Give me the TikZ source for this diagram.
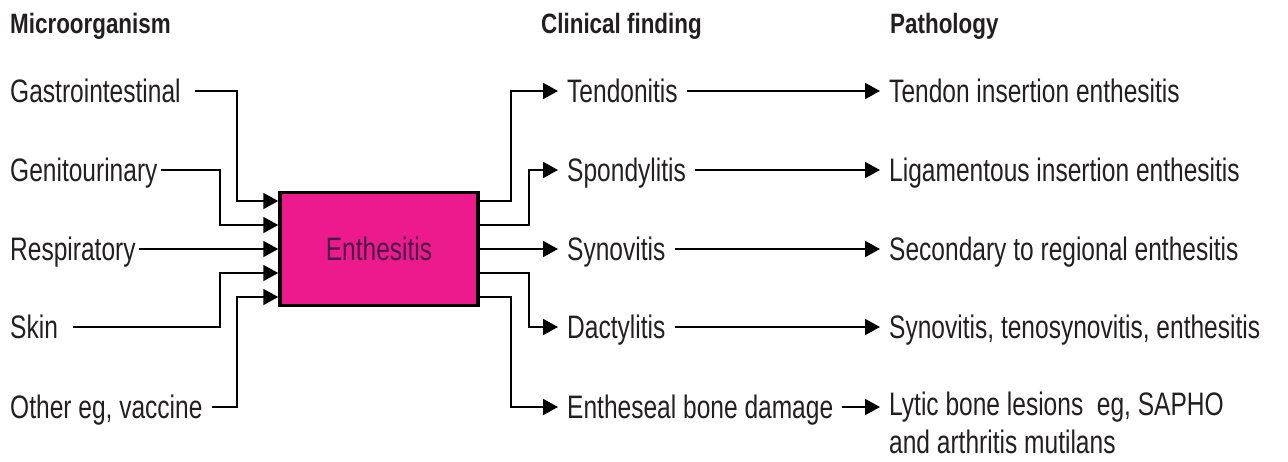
\documentclass[tikz,border=0pt]{standalone}
\usepackage{fontspec}
\setmainfont{Liberation Sans}[FakeStretch=0.755]
\newfontfamily\hdfont{Liberation Sans}[FakeStretch=0.80]
\usetikzlibrary{arrows.meta,calc}
\definecolor{textc}{HTML}{231F20}
\definecolor{boxfill}{HTML}{EC1A8C}
\definecolor{boxtext}{HTML}{4A1848}
\tikzset{
  lblbase/.style={inner xsep=9pt, inner ysep=0pt, text=textc, font=\fontsize{32.5}{38}\selectfont},
  lbl/.style={lblbase, anchor=west, text height=23pt, text depth=0pt},
  hdr/.style={anchor=base west, inner xsep=0pt, inner ysep=0pt, text=textc,
    font=\hdfont\bfseries\fontsize{28}{32}\selectfont},
  ebox/.style={draw=black, line width=3.5pt, fill=boxfill, minimum width=198pt, minimum height=113pt,
    inner sep=0pt, text=boxtext, font=\fontsize{32.5}{38}\selectfont},
  conn/.style={draw=black, line width=2pt},
  arr/.style={conn, -{Triangle[length=15pt,width=16pt]}},
}
\begin{document}
\begin{tikzpicture}[x=1pt,y=1pt]
\useasboundingbox (0,0) rectangle (1288,-461);
% headers
\node[hdr] (h1) at (10,-33) {Microorganism};
\node[hdr] (h2) at (541,-33) {Clinical finding};
\node[hdr] (h3) at (890,-33) {Pathology};
% box
\node[ebox] (box) at (379,-249) {Enthesitis};
\coordinate (i1) at ($(box.west)+(0,48)$);
\coordinate (i2) at ($(box.west)+(0,24)$);
\coordinate (i3) at (box.west);
\coordinate (i4) at ($(box.west)+(0,-24)$);
\coordinate (i5) at ($(box.west)+(0,-48)$);
\coordinate (o1) at ($(box.east)+(0,48)$);
\coordinate (o2) at ($(box.east)+(0,24)$);
\coordinate (o3) at (box.east);
\coordinate (o4) at ($(box.east)+(0,-24)$);
\coordinate (o5) at ($(box.east)+(0,-48)$);
% left labels
\node[lbl] (l1) at (1,-91) {Gastrointestinal};
\node[lbl] (l2) at (1,-170) {Genitourinary};
\node[lbl] (l3) at (1,-249) {Respiratory};
\node[lbl] (l4) at (1,-327) {Skin};
\node[lbl] (l5) at (1,-407) {Other eg, vaccine};
% middle labels
\node[lbl] (m1) at (558,-91) {Tendonitis};
\node[lbl] (m2) at (558,-170) {Spondylitis};
\node[lbl] (m3) at (558,-249) {Synovitis};
\node[lbl] (m4) at (558,-327) {Dactylitis};
\node[lbl] (m5) at (558,-407) {Entheseal bone damage};
% right labels
\node[lbl] (r1) at (880,-91) {Tendon insertion enthesitis};
\node[lbl] (r2) at (880,-170) {Ligamentous insertion enthesitis};
\node[lbl] (r3) at (880,-249) {Secondary to regional enthesitis};
\node[lbl] (r4) at (880,-327) {Synovitis, tenosynovitis, enthesitis};
\node[lblbase, anchor=north west, align=left] (r5) at (880,-392) {Lytic bone lesions\ \ eg, SAPHO\\and arthritis mutilans};
% left connectors
\draw[arr] ([xshift=5pt]l1.east) -| ([xshift=-41pt]i1) -- (i1);
\draw[arr] ([xshift=-6pt]l2.east) -| ([xshift=-58pt]i2) -- (i2);
\draw[arr] ([xshift=-6pt]l3.east) -- (i3);
\draw[arr] ([xshift=6pt]l4.east) -| ([xshift=-58pt]i4) -- (i4);
\draw[arr] (l5.east) -| ([xshift=-41pt]i5) -- (i5);
% right connectors
\draw[arr] (o1) -- ++(31,0) |- (m1.west);
\draw[arr] (o2) -- ++(49,0) |- (m2.west);
\draw[arr] (o3) -- (m3.west);
\draw[arr] (o4) -- ++(49,0) |- (m4.west);
\draw[arr] (o5) -- ++(31,0) |- (m5.west);
% middle to right
\draw[arr] (m1.east) -- (m1.east -| r1.west);
\draw[arr] (m2.east) -- (m2.east -| r2.west);
\draw[arr] (m3.east) -- (m3.east -| r3.west);
\draw[arr] (m4.east) -- (m4.east -| r4.west);
\draw[arr] (m5.east) -- (m5.east -| r5.west);
\end{tikzpicture}
\end{document}
